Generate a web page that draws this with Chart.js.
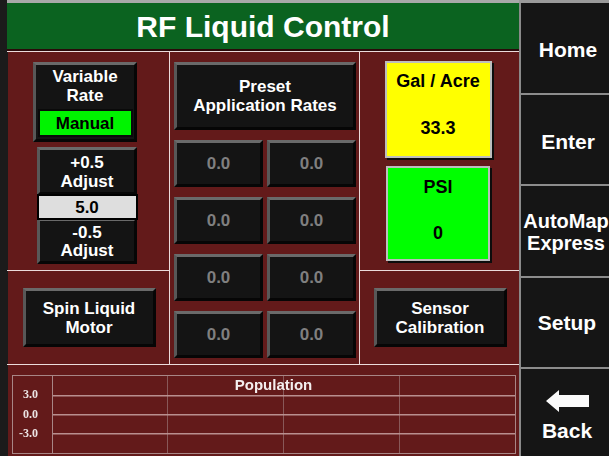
<!DOCTYPE html>
<html>
<head>
<meta charset="utf-8">
<script src="https://cdn.jsdelivr.net/npm/chart.js@4.4.1/dist/chart.umd.min.js"></script>
<style>
  html, body { margin: 0; padding: 0; }
  body { width: 609px; height: 456px; overflow: hidden; position: relative; background: #631a1a;
         font-family: "Liberation Sans", Arial, sans-serif; }
  .abs { position: absolute; box-sizing: border-box; }
  .btn { position: absolute; box-sizing: border-box; background: #141414;
         border-top: 3px solid #6a6a6a; border-left: 3px solid #585858;
         border-right: 3px solid #060606; border-bottom: 3px solid #060606; }
  .lbl { position: absolute; text-align: center; white-space: pre; font-weight: bold; }
  .line { position: absolute; background: #ecdcdc; }
  #popWrap { position: absolute; left: 12px; top: 375px; width: 504px; height: 79px;
             border: 1px solid #a88686; box-sizing: border-box; }
</style>
</head>
<body>
<div id="screen"></div>
<div id="popWrap"><canvas id="pop" width="502" height="77"></canvas></div>
<script>
// screen texts and values
const screenTitle = 'RF Liquid Control';
const sideButtons = ['Home', 'Enter', 'AutoMap\nExpress', 'Setup', 'Back'];
const rateMode = 'Manual';
const rateValue = '5.0';
const rateStepUp = '+0.5';
const rateStepDown = '-0.5';
const presetRates = ['0.0', '0.0', '0.0', '0.0', '0.0', '0.0', '0.0', '0.0'];
const galPerAcre = '33.3';
const psiValue = '0';

// population chart
const chartTitle = 'Population';
const populationTicks = [-3, 0, 3];
const populationSlots = [0, 1, 2, 3, 4];
const populationValues = []; // nothing logged yet

const screen = document.getElementById('screen');

function box(cls, x, y, w, h, style) {
    const d = document.createElement('div');
    d.className = cls;
    d.style.left = x + 'px';
    d.style.top = y + 'px';
    d.style.width = w + 'px';
    d.style.height = h + 'px';
    Object.assign(d.style, style || {});
    screen.appendChild(d);
    return d;
}

function label(cx, cy, text, size, color, lh) {
    const lines = text.split('\n').length;
    lh = lh || size + 2;
    const d = document.createElement('div');
    d.className = 'lbl';
    d.textContent = text;
    d.style.left = (cx - 200) + 'px';
    d.style.width = '400px';
    d.style.top = (cy - lines * lh / 2) + 'px';
    d.style.fontSize = size + 'px';
    d.style.lineHeight = lh + 'px';
    d.style.color = color || '#fff';
    screen.appendChild(d);
    return d;
}

// frame
box('abs', 0, 0, 8, 456, { background: '#1b1b1b' });
box('abs', 7, 0, 514, 3, { background: '#a9a9a9' });
box('abs', 7, 3, 512, 46, { background: '#0b6320' });
box('abs', 7, 49, 512, 2, { background: '#2a0a0a' });
label(263, 27, screenTitle, 30, '#fff', 32);

// separators
box('line', 7, 51, 512, 1);
box('line', 169, 51, 1, 314);
box('line', 359, 51, 1, 314);
box('line', 7, 270, 162, 1);
box('line', 359, 270, 160, 1);
box('line', 7, 364, 512, 1);

// right side panel
box('abs', 519, 0, 90, 456, { background: '#151515' });
box('abs', 519, 0, 2, 456, { background: '#8a8a8a' });
box('abs', 519, 0, 90, 3, { background: '#9a9a9a' });
[93, 184, 276, 367].forEach(y => box('abs', 521, y, 88, 2, { background: '#8c8c8c' }));
const sideCentres = [50, 142, 232, 323, 431];
const sideX = [568, 568, 566, 567, 567];
sideButtons.forEach((t, i) => label(sideX[i], sideCentres[i], t, t.includes('\n') ? 20 : 21, '#fff', 22));
const arrow = document.createElementNS('http://www.w3.org/2000/svg', 'svg');
arrow.setAttribute('width', '609');
arrow.setAttribute('height', '456');
arrow.style.position = 'absolute';
arrow.style.left = '0';
arrow.style.top = '0';
arrow.innerHTML = '<polygon fill="#fafafa" points="546,401 559,390 559,395 589,395 589,407 559,407 559,412"/>';
screen.appendChild(arrow);

// left column
box('btn', 33, 62, 104, 80);
label(85, 85.5, 'Variable\nRate', 17, '#fff', 19);
box('abs', 38, 109, 95, 28, { background: '#00f400', border: '2px solid #0a0a0a' });
label(85, 123, rateMode, 17, '#000');
box('btn', 37, 147, 100, 48);
label(87, 171.5, rateStepUp + '\nAdjust', 17, '#fff', 19);
box('btn', 37, 218, 100, 46);
label(87, 242, rateStepDown + '\nAdjust', 17, '#fff', 18);
box('abs', 37, 194, 101, 26, { background: '#dedede', border: '2px solid #000' });
label(87, 207, rateValue, 17, '#000');
box('btn', 23, 288, 133, 59);
label(89, 317.5, 'Spin Liquid\nMotor', 17, '#fff', 19);

// middle column
box('btn', 174, 62, 182, 68);
label(265, 95.5, 'Preset\nApplication Rates', 17, '#fff', 19);
const presetRows = [140, 197, 254, 311];
presetRates.forEach((v, i) => {
    const x = i % 2 === 0 ? 174 : 267;
    const y = presetRows[Math.floor(i / 2)];
    box('btn', x, y, 89, 47);
    label(x + 44.5, y + 23.5, v, 17, '#7f7f7f');
});

// right column
box('abs', 385, 61, 107, 97, { background: '#ffff00', border: '2px solid #bdbdbd', boxShadow: '2px 2px 0 #0c0c0c' });
label(438, 81, 'Gal / Acre', 18, '#000');
label(438, 128, galPerAcre, 18, '#000');
box('abs', 386, 166, 104, 95, { background: '#00ff00', border: '2px solid #bdbdbd', boxShadow: '2px 2px 0 #0c0c0c' });
label(438, 187, 'PSI', 18, '#000');
label(438, 233, psiValue, 18, '#000');
box('btn', 374, 288, 133, 59);
label(440, 317.5, 'Sensor\nCalibration', 17, '#fff', 19);

// population chart
const titlePlugin = {
    id: 'popTitle',
    afterDraw(chart) {
        const { ctx, chartArea } = chart;
        ctx.save();
        ctx.font = 'bold 15px "Liberation Sans", Arial, sans-serif';
        ctx.fillStyle = '#f4eeee';
        ctx.textAlign = 'center';
        ctx.textBaseline = 'middle';
        ctx.fillText(chartTitle, (chartArea.left + chartArea.right) / 2 - 10, chartArea.top + 10);
        ctx.restore();
    }
};

new Chart(document.getElementById('pop'), {
    type: 'line',
    data: {
        datasets: [{
            data: populationValues.map((v, i) => ({ x: populationSlots[i], y: v })),
            borderColor: '#ffffff',
            borderWidth: 2,
            pointRadius: 0
        }]
    },
    options: {
        responsive: false,
        animation: false,
        layout: { padding: 0 },
        plugins: { legend: { display: false }, tooltip: { enabled: false } },
        scales: {
            x: {
                type: 'linear',
                min: populationSlots[0],
                max: populationSlots[populationSlots.length - 1],
                afterBuildTicks: s => { s.ticks = populationSlots.map(v => ({ value: v })); },
                afterFit: s => { s.height = 0; s.paddingLeft = 0; s.paddingRight = 0; },
                ticks: { display: false },
                grid: { color: 'rgba(140,95,95,0.9)', lineWidth: 1, drawTicks: false },
                border: { display: false }
            },
            y: {
                min: -6,
                max: 6,
                afterBuildTicks: s => { s.ticks = populationTicks.map(v => ({ value: v })); },
                afterFit: s => { s.width = 39; s.paddingTop = 0; s.paddingBottom = 0; },
                ticks: {
                    padding: 0,
                    color: '#ece4e4',
                    font: { family: '"Liberation Serif", "DejaVu Serif", serif', size: 12, weight: 'bold' },
                    callback: v => v.toFixed(1)
                },
                grid: { color: 'rgba(190,150,150,0.95)', lineWidth: 1.5, drawTicks: true, tickLength: 14, tickColor: 'rgba(0,0,0,0)' },
                border: { color: '#a88686', width: 1 }
            }
        }
    },
    plugins: [titlePlugin]
});
</script>
</body>
</html>
